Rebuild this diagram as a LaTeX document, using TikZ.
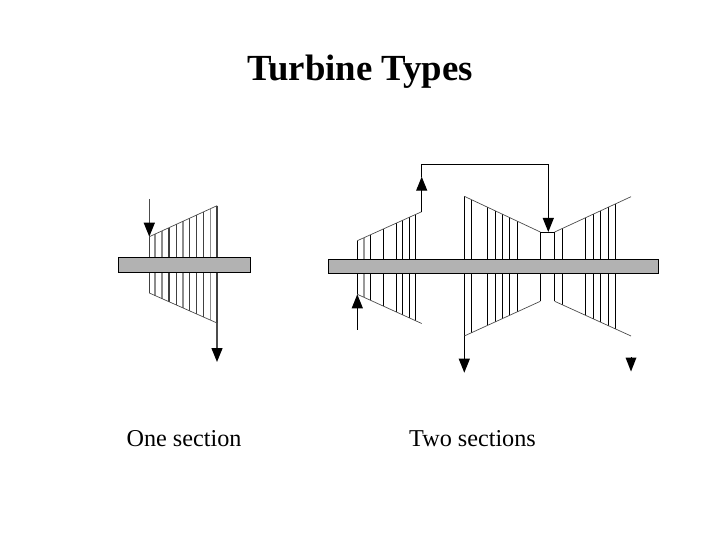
\documentclass[tikz,border=0pt]{standalone}
\usepackage{fontspec}
\usepackage{tikz}
\usetikzlibrary{arrows.meta}
\setmainfont{Liberation Serif}

\tikzset{
    shaft/.style={draw=black, fill=black!30, line width=1pt},
    blade/.style={black, line width=1.1pt},
    softblade/.style={black!75, line width=1.1pt},
    casing/.style={black!70, line width=0.7pt},
    flow/.style={black, line width=1.1pt, -{Triangle[length=14pt, width=11pt]}},
    softflow/.style={black!70, line width=1.3pt, -{Triangle[length=14pt, width=11pt, color=black]}},
    label/.style={font=\fontsize{24.2}{28}\selectfont, anchor=base},
}

\begin{document}
\begin{tikzpicture}[x=1pt, y=-1pt]
    \useasboundingbox (0, 0) rectangle (720, 540);

    \node[font=\fontsize{36.8}{40}\selectfont\bfseries, anchor=base] (title) at (360, 80.5) {Turbine Types};
    \node[label] (onelabel) at (184, 446.5) {One section};
    \node[label] (twolabel) at (472.5, 446.5) {Two sections};

    % one section
    \foreach \x in {149.3, 169, 176.3, 189.7, 196.7, 203.7, 217} {
        \draw[softblade] (\x, {236.7-(\x-149.3)*0.458}) -- (\x, {293+(\x-149.3)*0.443});
    }
    \foreach \x in {155, 162, 183, 210.3} {
        \draw[softblade, black!45] (\x, {236.7-(\x-149.3)*0.458}) -- (\x, {293+(\x-149.3)*0.443});
    }
    \draw[casing] (149.3, 236.7) -- (217, 205.7);
    \draw[casing] (149.3, 293) -- (217, 323);
    \draw[shaft] (118.3, 257.3) rectangle (250.7, 272.3);

    \coordinate (onein) at (149.3, 199);
    \coordinate (onetip) at (149.3, 236.7);
    \coordinate (oneend) at (217, 323);
    \coordinate (oneout) at (217, 362);
    \draw[softflow] (onein) -- (onetip);
    \draw[softflow] (oneend) -- (oneout);

    % two sections, first turbine
    \foreach \x in {357.3, 370.3, 383.3, 396.3, 402.3, 409.3, 415.7} {
        \draw[blade] (\x, {240.7-(\x-357.3)*0.453}) -- (\x, {294.3+(\x-357.3)*0.453});
    }
    \draw[softblade, black!40] (364, 237.7) -- (364, 297.3);
    \draw[casing] (357.3, 240.7) -- (421.7, 211.7);
    \draw[casing] (357.3, 294.3) -- (421.7, 323.5);

    % two sections, second turbine
    \foreach \x in {464.3, 471.7, 487.7, 495.3, 502.3, 509.3, 517.3, 540.3} {
        \draw[blade] (\x, {196.3+(\x-464.3)*0.47}) -- (\x, {336-(\x-464.3)*0.456});
    }
    \foreach \x in {554.7, 562.3, 585.7, 593.3, 600.7, 608.3, 615.7} {
        \draw[blade] (\x, {232-(\x-554.7)*0.463}) -- (\x, {301.3+(\x-554.7)*0.455});
    }
    \draw[casing] (464.3, 196.3) -- (540.3, 232);
    \draw[casing] (464.3, 336) -- (540.3, 301.3);
    \draw[casing] (554.7, 232) -- (631, 196.7);
    \draw[casing] (554.7, 301.3) -- (631, 336);
    \draw[blade] (540.3, 232.3) -- (554.7, 232.3);
    \draw[shaft] (328, 259.3) rectangle (658.3, 273.3);

    \coordinate (twoin) at (357.3, 329.7);
    \coordinate (twotip) at (357.3, 294.3);
    \coordinate (upstart) at (421.7, 211.7);
    \coordinate (uptip) at (421.7, 176.7);
    \coordinate (corner) at (421.7, 164.3);
    \coordinate (turn) at (548.3, 164.3);
    \coordinate (downtip) at (548.3, 232);
    \coordinate (hpstart) at (464.3, 336);
    \coordinate (hpout) at (464.3, 372.7);
    \coordinate (lpstart) at (631, 358);
    \coordinate (lpout) at (631, 371.5);

    \draw[flow] (twoin) -- (twotip);
    \draw[flow] (upstart) -- (uptip);
    \draw[blade] (uptip) -- (corner) -- (turn);
    \draw[flow] (turn) -- (downtip);
    \draw[flow] (hpstart) -- (hpout);
    \draw[flow, line width=0pt] (lpstart) -- (lpout);
\end{tikzpicture}
\end{document}
